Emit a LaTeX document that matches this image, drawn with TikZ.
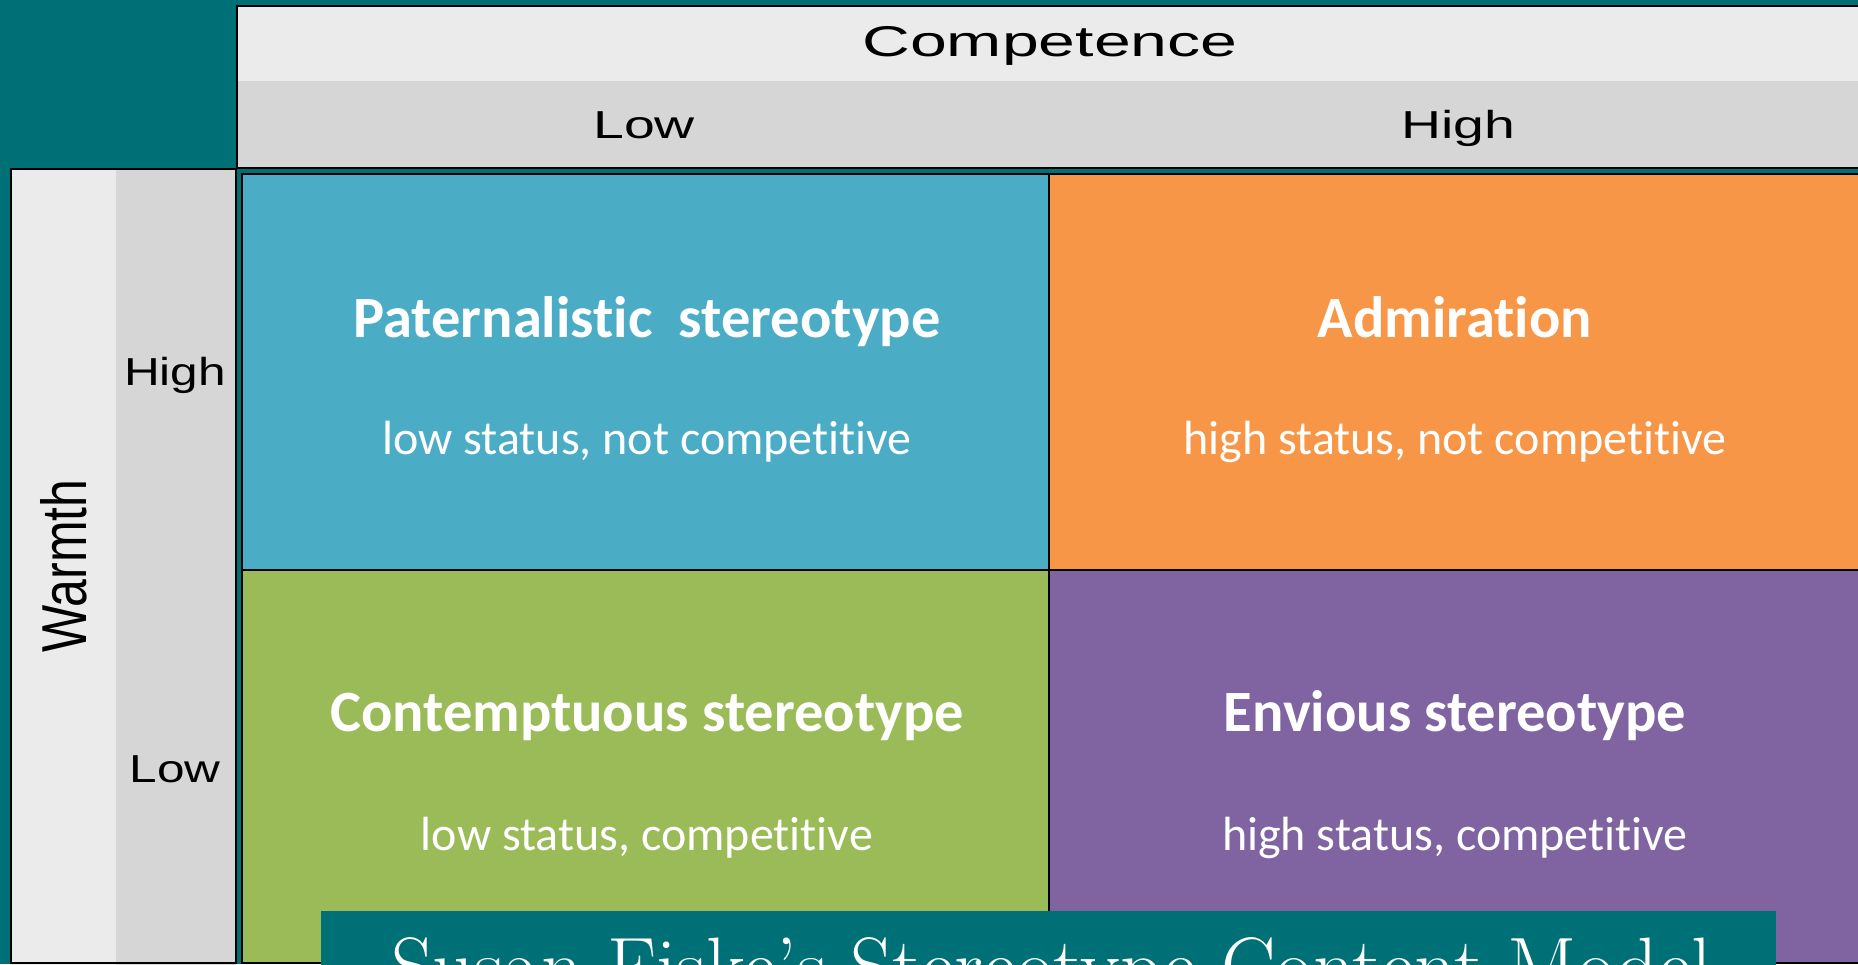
\documentclass[tikz,border=0pt]{standalone}
\usepackage{fontspec}
\newfontfamily\cellfont[Ligatures=CommonOff]{Carlito}
\newfontfamily\headfont{Liberation Sans}

\definecolor{slideteal}{RGB}{0,112,119}
\definecolor{headlight}{RGB}{235,235,235}
\definecolor{headdark}{RGB}{214,214,214}
\definecolor{cellblue}{RGB}{75,172,198}
\definecolor{cellorange}{RGB}{247,150,70}
\definecolor{cellgreen}{RGB}{155,187,89}
\definecolor{cellpurple}{RGB}{128,100,162}

\newcommand{\widetext}[2]{\scalebox{#1}[1]{#2}}

\tikzset{
  cellbox/.style={draw=black,line width=2pt,inner sep=0pt,outer sep=0pt},
  celltitle/.style={anchor=base,text=white,font=\cellfont\bfseries\fontsize{58.5}{66}\selectfont},
  cellnote/.style={anchor=base,text=white,font=\cellfont\fontsize{48}{54}\selectfont},
  headtext/.style={anchor=base,text=black,font=\headfont\fontsize{39}{45}\selectfont}
}

\begin{document}
\begin{tikzpicture}[x=1pt,y=-1pt]
\useasboundingbox (0,0) rectangle (1858,964);
\clip (0,0) rectangle (1858,964);
\fill[slideteal] (0,0) rectangle (1858,964);

% competence header
\fill[headlight] (237,6) rectangle (1862,81);
\fill[headdark] (237,81) rectangle (1862,168);
\draw[line width=2pt] (237,6) rectangle (1862,168);
\node[headtext,font=\headfont\fontsize{43}{50}\selectfont] (comp) at (1050,56) {\widetext{1.54}{Competence}};
\node[headtext] (clow) at (644,138) {\widetext{1.42}{Low}};
\node[headtext] (chigh) at (1458,138) {\widetext{1.42}{High}};

% warmth header
\fill[headlight] (11,169) rectangle (116,966);
\fill[headdark] (116,169) rectangle (236,966);
\draw[line width=2pt] (11,169) rectangle (236,963);
\node[headtext,rotate=90,font=\headfont\fontsize{50}{56}\selectfont] (warm) at (86,566) {\scalebox{1}[1.27]{Warmth}};
\node[headtext] (whigh) at (175,385) {\widetext{1.27}{High}};
\node[headtext] (wlow) at (175,782) {\widetext{1.27}{Low}};

% quadrants
\node[cellbox,fill=cellblue,minimum width=807pt,minimum height=396pt] (pat) at (645.5,372) {};
\node[cellbox,fill=cellorange,minimum width=811pt,minimum height=396pt] (adm) at (1454.5,372) {};
\node[cellbox,fill=cellgreen,minimum width=807pt,minimum height=393pt] (con) at (645.5,766.5) {};
\node[cellbox,fill=cellpurple,minimum width=811pt,minimum height=393pt] (env) at (1454.5,766.5) {};

\node[celltitle] (pattitle) at (647,337) {Paternalistic\ \ stereotype};
\node[cellnote] (patnote) at (647,454) {low status, not competitive};
\node[celltitle] (admtitle) at (1455,337) {Admiration};
\node[cellnote] (admnote) at (1455,454) {high status, not competitive};
\node[celltitle] (contitle) at (647,731) {Contemptuous stereotype};
\node[cellnote] (connote) at (647,850) {low status, competitive};
\node[celltitle] (envtitle) at (1455,731) {Envious stereotype};
\node[cellnote] (envnote) at (1455,850) {high status, competitive};

% title banner
\fill[slideteal] (321,911) rectangle (1776,970);
\node[anchor=base west,inner sep=0pt,text=white,font=\rmfamily\fontsize{81.5}{88}\selectfont] (banner) at (391,994) {Susan Fiske’s Stereotype Content Model};
\end{tikzpicture}
\end{document}
